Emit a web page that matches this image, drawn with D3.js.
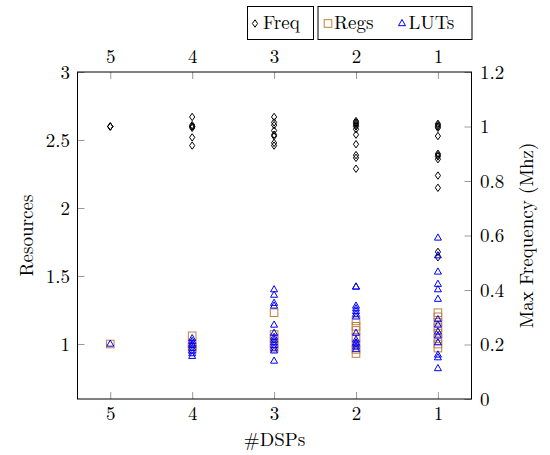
<!DOCTYPE html>
<html><head><meta charset="utf-8">
<script src="https://cdn.jsdelivr.net/npm/d3@7"></script>
<style>
body{margin:0;background:#fff;}
</style></head>
<body><svg id="c" width="550" height="455"></svg>
<script>
// ---- data ----
const dspTicks = [5, 4, 3, 2, 1];
const leftTicks = [1, 1.5, 2, 2.5, 3];
const rightTicks = [0, 0.2, 0.4, 0.6, 0.8, 1, 1.2];

const freqDsp = [5,5,5, 4,4,4,4,4,4,4, 3,3,3,3,3,3,3,3, 2,2,2,2,2,2,2,2,2,2,2, 1,1,1,1,1,1,1,1,1,1,1,1,1];
const freqVal = [1.0,1.0,1.0,
  1.035,1.005,1.0,1.0,0.995,0.96,0.93,
  1.035,1.015,1.005,0.985,0.97,0.965,0.94,0.93,
  1.02,1.015,1.01,1.005,1.0,0.99,0.97,0.935,0.895,0.885,0.845,
  1.01,1.005,1.0,0.995,0.965,0.9,0.895,0.89,0.88,0.82,0.775,0.54,0.52];

const regsDsp = [5, 4,4,4,4, 3,3,3,3,3, 2,2,2,2,2,2,2, 1,1,1,1,1,1,1,1];
const regsVal = [1.0,
  1.06,1.0,0.98,0.96,
  1.23,1.07,1.04,1.0,0.97,
  1.17,1.13,1.1,1.05,1.0,0.96,0.93,
  1.23,1.2,1.16,1.12,1.08,1.04,1.0,0.97];

const lutsDsp = [5, 4,4,4,4,4,4,4,4, 3,3,3,3,3,3,3,3,3,3,3,3,3, 2,2,2,2,2,2,2,2,2,2,2,2,2, 1,1,1,1,1,1,1,1,1,1,1,1,1,1];
const lutsVal = [1.0,
  1.04,1.02,1.0,0.99,0.97,0.95,0.93,0.91,
  1.4,1.36,1.3,1.28,1.14,1.08,1.05,1.03,1.01,0.99,0.97,0.95,0.875,
  1.42,1.42,1.28,1.26,1.24,1.22,1.2,1.08,1.03,1.01,1.0,0.98,0.96,
  1.78,1.65,1.53,1.44,1.4,1.33,1.18,1.14,1.09,1.06,1.01,0.92,0.9,0.82];

const legendNames = ["Freq", "Regs", "LUTs"];
const colors = {Freq:"#000000", Regs:"#bf8040", LUTs:"#0000ff"};

// ---- layout ----
const L = 77.5, R = 471.5, T = 72, B = 399;
const FS = 19;
const FONT = '"Latin Modern Roman", "Liberation Serif", monospace';
const svg = d3.select("#c");

const x = d3.scaleLinear().domain([5.4, 0.59]).range([L, R]);
const yL = d3.scaleLinear().domain([0.5956, 3]).range([B, T]);
const yR = d3.scaleLinear().domain([0, 1.2]).range([B, T]);

function styleText(sel){
  sel.attr("font-family", FONT).style("font-family", FONT).attr("font-size", FS).style("font-size", FS + "px").attr("fill", "#000");
}
function styleAxis(g){
  g.attr("font-family", null);
  g.select(".domain").remove();
  g.selectAll(".tick line").attr("stroke", "#9a9a9a").attr("stroke-width", 1);
  g.selectAll(".tick text").call(styleText);
}
const fmt = d => String(d);
svg.append("g").attr("transform", `translate(0,${B})`)
  .call(d3.axisBottom(x).tickValues(dspTicks).tickFormat(fmt).tickSizeInner(-7).tickSizeOuter(0).tickPadding(8)).call(styleAxis);
svg.append("g").attr("transform", `translate(0,${T})`)
  .call(d3.axisTop(x).tickValues(dspTicks).tickFormat(fmt).tickSizeInner(-7).tickSizeOuter(0).tickPadding(9)).call(styleAxis);
svg.append("g").attr("transform", `translate(${L},0)`)
  .call(d3.axisLeft(yL).tickValues(leftTicks).tickFormat(fmt).tickSizeInner(-7).tickSizeOuter(0).tickPadding(7.5)).call(styleAxis);
svg.append("g").attr("transform", `translate(${R},0)`)
  .call(d3.axisRight(yR).tickValues(rightTicks).tickFormat(fmt).tickSizeInner(-7).tickSizeOuter(0).tickPadding(8.5)).call(styleAxis);

svg.append("rect").attr("x", L).attr("y", T).attr("width", R - L).attr("height", B - T)
  .attr("fill", "none").attr("stroke", "#000").attr("stroke-width", 1);

// ---- markers ----
function marker(sel, type, color){
  if (type === "Freq") {
    sel.append("path").attr("d", "M0,-3.7L2.6,0L0,3.7L-2.6,0Z")
      .attr("fill", "none").attr("stroke", color).attr("stroke-width", 1);
  } else if (type === "Regs") {
    sel.append("rect").attr("x", -3.8).attr("y", -3.8).attr("width", 7.6).attr("height", 7.6)
      .attr("fill", "none").attr("stroke", color).attr("stroke-width", 1);
  } else {
    sel.append("path").attr("d", "M0,-4L3.5,2.2L-3.5,2.2Z")
      .attr("fill", "none").attr("stroke", color).attr("stroke-width", 1);
  }
}
function drawSeries(name, dsp, vals, yScale){
  const g = svg.append("g");
  dsp.forEach((d, i) => {
    const m = g.append("g").attr("transform", `translate(${x(d)},${yScale(vals[i])})`);
    marker(m, name, colors[name]);
  });
}
drawSeries("Freq", freqDsp, freqVal, yR);
drawSeries("Regs", regsDsp, regsVal, yL);
drawSeries("LUTs", lutsDsp, lutsVal, yL);

// ---- axis titles ----
svg.append("text").attr("x", (L + R) / 2).attr("y", 446).attr("text-anchor", "middle")
  .call(styleText).text("#DSPs");
svg.append("text").attr("transform", `translate(33,${(T + B) / 2}) rotate(-90)`).attr("text-anchor", "middle")
  .call(styleText).text("Resources");
svg.append("text").attr("transform", `translate(533,${(T + B) / 2}) rotate(-90)`).attr("text-anchor", "middle")
  .call(styleText).text("Max Frequency (Mhz)");

// ---- legend ----
const lg = svg.append("g");
lg.append("rect").attr("x", 247.5).attr("y", 6.5).attr("width", 66).attr("height", 33)
  .attr("fill", "#fff").attr("stroke", "#000").attr("stroke-width", 1);
lg.append("rect").attr("x", 318).attr("y", 6.5).attr("width", 154).attr("height", 33)
  .attr("fill", "#fff").attr("stroke", "#000").attr("stroke-width", 1);
const legPos = [{mx:255, tx:263}, {mx:328, tx:334}, {mx:402, tx:408.5}];
legendNames.forEach((n, i) => {
  const m = lg.append("g").attr("transform", `translate(${legPos[i].mx},23.5)`);
  marker(m, n, colors[n]);
  lg.append("text").attr("x", legPos[i].tx).attr("y", 29).call(styleText).text(n);
});
</script></body></html>
